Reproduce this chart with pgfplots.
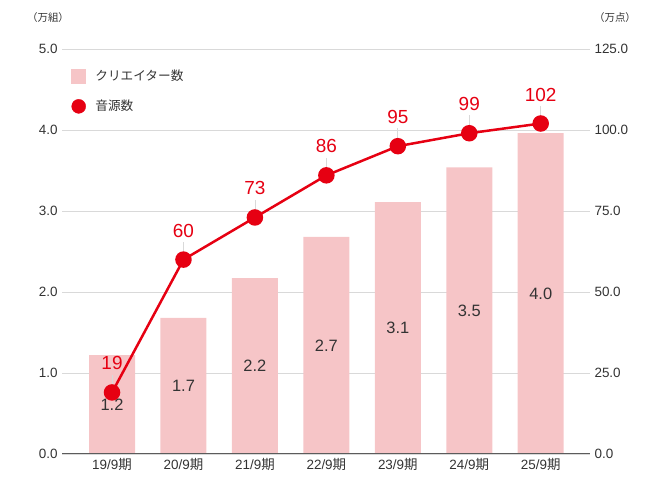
\documentclass[border=0pt]{standalone}
\usepackage{pgfplots}
\pgfplotsset{compat=1.18}
\usepackage{fontspec}
\setmainfont{Liberation Sans}
\newfontfamily\cjk{Noto Sans CJK JP}
\definecolor{barpink}{HTML}{F6C5C7}
\definecolor{linered}{HTML}{E60012}
\definecolor{txt}{HTML}{333333}
\definecolor{gridc}{HTML}{D9D9D9}
\begin{document}
\begin{tikzpicture}[x=1bp,y=1bp]
\useasboundingbox (0,0) rectangle (645,488);
\pgfplotsset{
  base/.style={
    at={(62bp,34bp)}, anchor=south west,
    scale only axis, width=528bp, height=405bp,
    xmin=-0.7, xmax=6.69,
    /pgf/number format/assume math mode=true,
    tick style={draw=none},
    ticklabel style={font=\fontsize{13.5}{15}\selectfont, text=txt},
    axis line style={draw=none},
  }
}
\begin{axis}[base,
  ymin=0, ymax=5, ytick={0,1,2,3,4,5},
  yticklabel style={/pgf/number format/.cd, fixed, fixed zerofill, precision=1},
  yticklabel shift=1bp,
  ymajorgrids, grid style={gridc, line width=0.8bp},
  xtick={0,1,2,3,4,5,6},
  xticklabels={19/9{\cjk 期},20/9{\cjk 期},21/9{\cjk 期},22/9{\cjk 期},23/9{\cjk 期},24/9{\cjk 期},25/9{\cjk 期}},
  xticklabel style={yshift=-1bp},
  legend style={at={(0,1)}, anchor=north west, xshift=6bp, yshift=-17bp,
    draw=none, fill=none, font=\cjk\fontsize{12.7}{14}\selectfont, text=txt,
    row sep=14bp, cells={anchor=west}},
  legend cell align=left,
]
\addplot[ybar, bar width=46bp, fill=barpink, draw=none, forget plot]
  coordinates {(0,1.22) (1,1.68) (2,2.17) (3,2.68) (4,3.11) (5,3.54) (6,3.96)};
\addplot[only marks, mark=none, forget plot,
  nodes near coords, point meta=explicit symbolic,
  every node near coord/.style={anchor=center, font=\fontsize{16.5}{18}\selectfont, text=txt}]
  coordinates {(0,0.61)[1.2] (1,0.84)[1.7] (2,1.085)[2.2] (3,1.34)[2.7] (4,1.555)[3.1] (5,1.77)[3.5] (6,1.98)[4.0]};
\draw[txt!80, line width=1bp] (axis cs:-0.7,0) -- (axis cs:6.69,0);
\addlegendimage{area legend, fill=barpink, draw=none,
  legend image code/.code={\fill[barpink] (0bp,-7.5bp) rectangle (15bp,7.5bp); \path (22bp,0);}}
\addlegendentry{クリエイター数}
\addlegendimage{legend image code/.code={\fill[linered] (7.5bp,0) circle (7bp); \path (22bp,0);}}
\addlegendentry{音源数}
\end{axis}
\begin{axis}[base,
  ymin=0, ymax=125, ytick={0,25,50,75,100,125},
  axis y line*=right,
  yticklabel style={/pgf/number format/.cd, fixed, fixed zerofill, precision=1},
  yticklabel shift=1bp,
  xtick=\empty,
]
\addplot[linered, line width=2.5bp, mark=*, mark size=7bp,
  mark options={fill=linered, draw=linered},
  error bars/.cd, y dir=plus, y fixed=5.5,
  error bar style={gridc, line width=0.8bp}, error mark=none]
  coordinates {(0,19) (1,60) (2,73) (3,86) (4,95) (5,99) (6,102)};
\addplot[only marks, mark=none,
  nodes near coords, point meta=explicit symbolic,
  every node near coord/.style={anchor=center, yshift=29bp, font=\fontsize{19}{21}\selectfont, text=linered}]
  coordinates {(0,19)[19] (1,60)[60] (2,73)[73] (3,86)[86] (4,95)[95] (5,99)[99] (6,102)[102]};
\end{axis}
\node[font=\cjk\fontsize{10.5}{12}\selectfont, text=txt] at (48,470) {（万組）};
\node[font=\cjk\fontsize{10.5}{12}\selectfont, text=txt] at (615,470) {（万点）};
\end{tikzpicture}
\end{document}
